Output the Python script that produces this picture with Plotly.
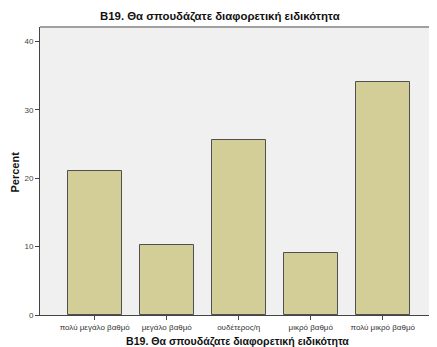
import plotly.graph_objects as go

categories = ["πολύ μεγάλο βαθμό", "μεγάλο βαθμό", "ουδέτερος/η", "μικρό βαθμό", "πολύ μικρό βαθμό"]
percent = [21.0, 10.2, 25.6, 9.1, 34.1]
y_ticks = [0, 10, 20, 30, 40]
title_text = "B19. Θα σπουδάζατε διαφορετική ειδικότητα"

font_family = "Liberation Sans, Arial, sans-serif"
# the page body adds an 8px margin, so the figure is drawn 8px in from top-left
OFF = 8
W, H = 437 - OFF, 347 - OFF
L, R, T, B = 40 - OFF, 1, 27 - OFF, 32

fig = go.Figure(go.Bar(
    x=list(range(len(categories))),
    y=percent,
    width=0.75,
    marker=dict(color="#d3ce97", line=dict(color="#505050", width=1)),
    hoverinfo="x+y",
))

fig.update_layout(
    width=W, height=H,
    margin=dict(l=L, r=R, t=T, b=B, autoexpand=False),
    paper_bgcolor="white",
    plot_bgcolor="#f0f0f0",
    showlegend=False,
    font=dict(family=font_family, color="#222"),
    bargap=0,
)

fig.update_xaxes(
    range=[-0.76, 4.74],
    automargin=False,
    tickmode="array",
    tickvals=list(range(len(categories))),
    ticktext=categories,
    ticks="outside", ticklen=4, tickcolor="#444",
    showline=True, linecolor="#444", linewidth=1,
    showgrid=False, zeroline=False,
    tickfont=dict(size=8, color="#333"),
)
fig.update_yaxes(
    range=[0, 42.1],
    automargin=False,
    tickmode="array",
    tickvals=y_ticks,
    ticks="outside", ticklen=4, tickcolor="#444",
    showline=True, linecolor="#444", linewidth=1,
    showgrid=False, zeroline=False,
    tickfont=dict(size=8, color="#444"),
)

PW, PH = W - L - R, H - T - B


def px_x(page_x):
    return ((page_x - OFF) - L) / PW


def px_y(page_y):
    return 1 - ((page_y - OFF) - T) / PH


# chart title, x-axis title, y-axis title (positions in page pixels)
fig.add_annotation(text="<b>" + title_text + "</b>", xref="paper", yref="paper",
                   x=px_x(220), y=px_y(17), xanchor="center", yanchor="middle",
                   showarrow=False, font=dict(size=11.4, color="#111"))
fig.add_annotation(text="<b>" + title_text + "</b>", xref="paper", yref="paper",
                   x=px_x(237), y=px_y(341), xanchor="center", yanchor="middle",
                   showarrow=False, font=dict(size=10.6, color="#111"))
fig.add_annotation(text="<b>Percent</b>", xref="paper", yref="paper",
                   x=px_x(14.5), y=px_y(172), xanchor="center", yanchor="middle",
                   textangle=-90, showarrow=False, font=dict(size=11, color="#111"))

fig.add_shape(type="line", xref="paper", yref="paper", x0=0, x1=1, y0=1, y1=1,
              line=dict(color="#a0a0a0", width=2))

fig.write_html("out.html")
